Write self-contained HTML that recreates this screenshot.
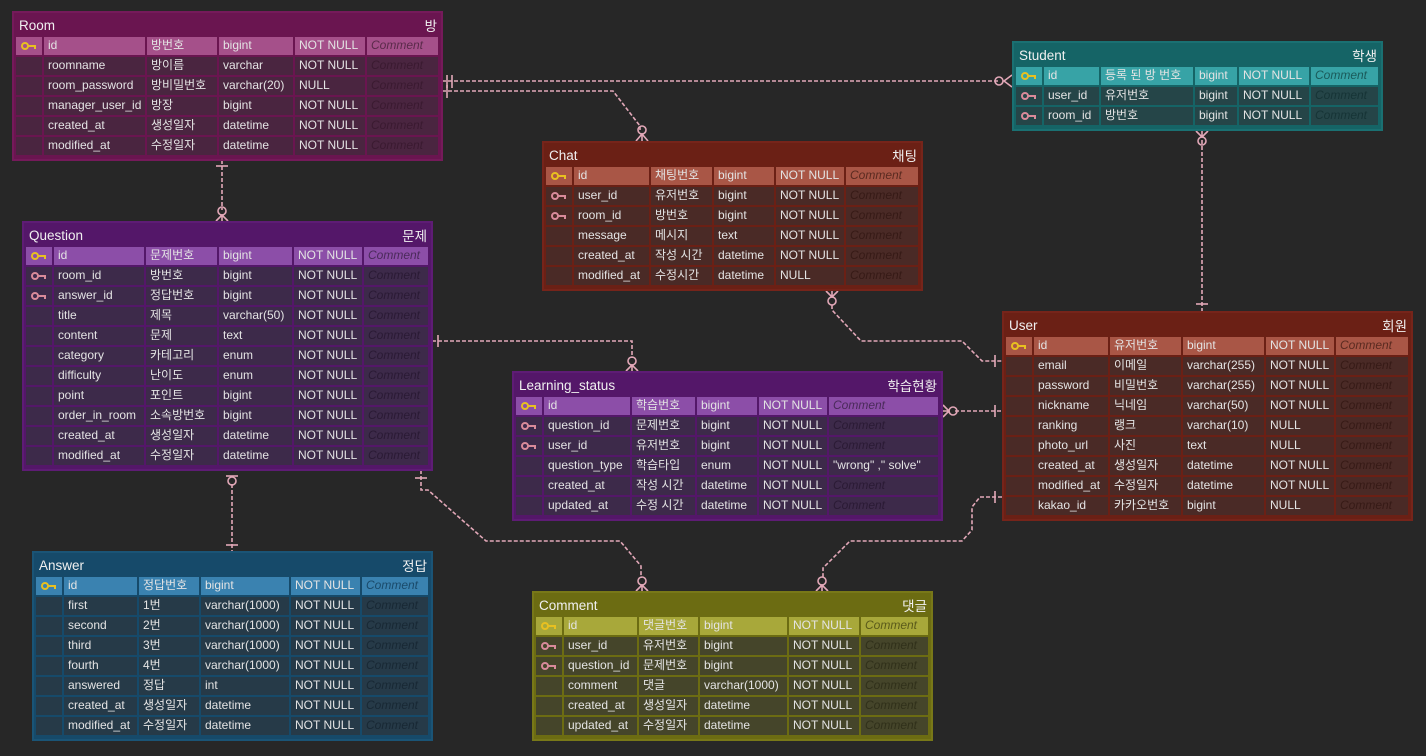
<!DOCTYPE html>
<html><head><meta charset="utf-8"><style>
*{box-sizing:border-box;margin:0;padding:0}
body{width:1426px;height:756px;background:#272727;position:relative;overflow:hidden;font-family:"Liberation Sans","Noto Sans CJK KR",sans-serif;font-size:12px;color:#e4e4e4}
.t{position:absolute;border:2px solid;padding:0 2px}
.h{height:24px;display:flex;justify-content:space-between;align-items:center;font-size:13.5px;padding:0 2px 0 3px;color:#f0f0f0}
.r{display:flex;height:18px;margin-bottom:2px}
.r span{display:block;height:18px;line-height:17px;margin-right:2px;padding-left:4px;white-space:nowrap;overflow:hidden}
.r span:last-child{margin-right:0;font-style:italic}
.k{position:relative}
.k i{position:absolute;left:5px;top:5px;width:8px;height:8px;border:2px solid #d88a9a;border-radius:50%}
.k b{position:absolute;left:12px;top:8px;width:8px;height:2px;background:#d88a9a}
.k b::after{content:"";position:absolute;right:0;top:0;width:2px;height:4px;background:inherit}
.p .k i{border-color:#e8c020}.p .k b{background:#e8c020}
</style></head><body>

<svg width="1426" height="756" style="position:absolute;left:0;top:0" fill="none" stroke="#e2a8b8" stroke-width="1.6">
<g stroke-dasharray="4 2">
<path d="M442 81H1000"/>
<path d="M442 91H613L640 126V130"/>
<path d="M222 160V210"/>
<path d="M1202 140V311"/>
<path d="M832 305V310L861 341H962L982 361H1002"/>
<path d="M432 341H632V358"/>
<path d="M955 411H1002"/>
<path d="M232 484V551"/>
<path d="M421 470V490H428L486 541H620L641 566V578"/>
<path d="M1002 497H980L972 507V530L962 541H850L823 568V578"/>
</g>
<g>
<path d="M447 75V88M452 75V88"/><path d="M447 85V98"/>
<path d="M1012 75L1004 81L1012 87"/><circle cx="999" cy="81" r="4"/>
<circle cx="642" cy="130" r="4"/><path d="M636 141L642 134L648 141M642 134V141"/>
<path d="M216 166H228"/>
<circle cx="222" cy="211" r="4"/><path d="M216 221L222 215L228 221M222 215V221"/>
<path d="M1196 131L1202 137L1208 131M1202 131V137"/><circle cx="1202" cy="141" r="4"/>
<path d="M1196 304H1208"/>
<path d="M826 291L832 297L838 291M832 291V297"/><circle cx="832" cy="301" r="4"/>
<path d="M995 355V367"/>
<path d="M438 335V347"/>
<circle cx="632" cy="361" r="4"/><path d="M626 371L632 365L638 371M632 365V371"/>
<path d="M943 405L949 411L943 417M943 411H949"/><circle cx="953" cy="411" r="4"/>
<path d="M995 405V417"/>
<circle cx="232" cy="481" r="4"/><path d="M226 476H238"/>
<path d="M226 545H238"/>
<path d="M415 478H427"/>
<circle cx="642" cy="581" r="4"/><path d="M636 591L642 585L648 591M642 585V591"/>
<path d="M995 491V503"/>
<circle cx="822" cy="581" r="4"/><path d="M816 591L822 585L828 591M822 585V591"/>
</g>
</svg>

<!-- Room -->
<div class="t" style="left:12px;top:11px;width:431px;height:150px;background:#6a1550;border-color:#751a5a">
<div class="h"><span>Room</span><span>방</span></div>
<div class="r p" style="background:#6a1550"><span class="k" style="width:26px;background:#a5508a"><i></i><b></b></span><span style="width:101px;background:#a5508a">id</span><span style="width:70px;background:#a5508a">방번호</span><span style="width:74px;background:#a5508a">bigint</span><span style="width:70px;background:#a5508a">NOT NULL</span><span style="width:71px;background:#a5508a;color:#5a2a4a">Comment</span></div>
<div class="r"><span style="width:26px;background:#4a2540"></span><span style="width:101px;background:#4a2540">roomname</span><span style="width:70px;background:#4a2540">방이름</span><span style="width:74px;background:#4a2540">varchar</span><span style="width:70px;background:#4a2540">NOT NULL</span><span style="width:71px;background:#4a2540;color:#3a1a30">Comment</span></div>
<div class="r"><span style="width:26px;background:#4a2540"></span><span style="width:101px;background:#4a2540">room_password</span><span style="width:70px;background:#4a2540">방비밀번호</span><span style="width:74px;background:#4a2540">varchar(20)</span><span style="width:70px;background:#4a2540">NULL</span><span style="width:71px;background:#4a2540;color:#3a1a30">Comment</span></div>
<div class="r"><span style="width:26px;background:#4a2540"></span><span style="width:101px;background:#4a2540">manager_user_id</span><span style="width:70px;background:#4a2540">방장</span><span style="width:74px;background:#4a2540">bigint</span><span style="width:70px;background:#4a2540">NOT NULL</span><span style="width:71px;background:#4a2540;color:#3a1a30">Comment</span></div>
<div class="r"><span style="width:26px;background:#4a2540"></span><span style="width:101px;background:#4a2540">created_at</span><span style="width:70px;background:#4a2540">생성일자</span><span style="width:74px;background:#4a2540">datetime</span><span style="width:70px;background:#4a2540">NOT NULL</span><span style="width:71px;background:#4a2540;color:#3a1a30">Comment</span></div>
<div class="r"><span style="width:26px;background:#4a2540"></span><span style="width:101px;background:#4a2540">modified_at</span><span style="width:70px;background:#4a2540">수정일자</span><span style="width:74px;background:#4a2540">datetime</span><span style="width:70px;background:#4a2540">NOT NULL</span><span style="width:71px;background:#4a2540;color:#3a1a30">Comment</span></div>
</div>

<!-- Student -->
<div class="t" style="left:1012px;top:41px;width:371px;height:90px;background:#156466;border-color:#1a7072">
<div class="h"><span>Student</span><span>학생</span></div>
<div class="r p"><span class="k" style="width:26px;background:#37a3a6"><i></i><b></b></span><span style="width:55px;background:#37a3a6">id</span><span style="width:92px;background:#37a3a6">등록 된 방 번호</span><span style="width:42px;background:#37a3a6">bigint</span><span style="width:70px;background:#37a3a6">NOT NULL</span><span style="width:67px;background:#37a3a6;color:#1a5a5a">Comment</span></div>
<div class="r"><span class="k" style="width:26px;background:#254548"><i></i><b></b></span><span style="width:55px;background:#254548">user_id</span><span style="width:92px;background:#254548">유저번호</span><span style="width:42px;background:#254548">bigint</span><span style="width:70px;background:#254548">NOT NULL</span><span style="width:67px;background:#254548;color:#163436">Comment</span></div>
<div class="r"><span class="k" style="width:26px;background:#254548"><i></i><b></b></span><span style="width:55px;background:#254548">room_id</span><span style="width:92px;background:#254548">방번호</span><span style="width:42px;background:#254548">bigint</span><span style="width:70px;background:#254548">NOT NULL</span><span style="width:67px;background:#254548;color:#163436">Comment</span></div>
</div>

<!-- Chat -->
<div class="t" style="left:542px;top:141px;width:381px;height:150px;background:#6b2015;border-color:#76241a">
<div class="h"><span>Chat</span><span>채팅</span></div>
<div class="r p"><span class="k" style="width:26px;background:#a95646"><i></i><b></b></span><span style="width:75px;background:#a95646">id</span><span style="width:61px;background:#a95646">채팅번호</span><span style="width:60px;background:#a95646">bigint</span><span style="width:68px;background:#a95646">NOT NULL</span><span style="width:72px;background:#a95646;color:#5a2a20">Comment</span></div>
<div class="r"><span class="k" style="width:26px;background:#4a2a26"><i></i><b></b></span><span style="width:75px;background:#4a2a26">user_id</span><span style="width:61px;background:#4a2a26">유저번호</span><span style="width:60px;background:#4a2a26">bigint</span><span style="width:68px;background:#4a2a26">NOT NULL</span><span style="width:72px;background:#4a2a26;color:#361a16">Comment</span></div>
<div class="r"><span class="k" style="width:26px;background:#4a2a26"><i></i><b></b></span><span style="width:75px;background:#4a2a26">room_id</span><span style="width:61px;background:#4a2a26">방번호</span><span style="width:60px;background:#4a2a26">bigint</span><span style="width:68px;background:#4a2a26">NOT NULL</span><span style="width:72px;background:#4a2a26;color:#361a16">Comment</span></div>
<div class="r"><span style="width:26px;background:#4a2a26"></span><span style="width:75px;background:#4a2a26">message</span><span style="width:61px;background:#4a2a26">메시지</span><span style="width:60px;background:#4a2a26">text</span><span style="width:68px;background:#4a2a26">NOT NULL</span><span style="width:72px;background:#4a2a26;color:#361a16">Comment</span></div>
<div class="r"><span style="width:26px;background:#4a2a26"></span><span style="width:75px;background:#4a2a26">created_at</span><span style="width:61px;background:#4a2a26">작성 시간</span><span style="width:60px;background:#4a2a26">datetime</span><span style="width:68px;background:#4a2a26">NOT NULL</span><span style="width:72px;background:#4a2a26;color:#361a16">Comment</span></div>
<div class="r"><span style="width:26px;background:#4a2a26"></span><span style="width:75px;background:#4a2a26">modified_at</span><span style="width:61px;background:#4a2a26">수정시간</span><span style="width:60px;background:#4a2a26">datetime</span><span style="width:68px;background:#4a2a26">NULL</span><span style="width:72px;background:#4a2a26;color:#361a16">Comment</span></div>
</div>

<!-- Question -->
<div class="t" style="left:22px;top:221px;width:411px;height:250px;background:#541769;border-color:#5e1c75">
<div class="h"><span>Question</span><span>문제</span></div>
<div class="r p"><span class="k" style="width:26px;background:#8c4ea8"><i></i><b></b></span><span style="width:90px;background:#8c4ea8">id</span><span style="width:71px;background:#8c4ea8">문제번호</span><span style="width:73px;background:#8c4ea8">bigint</span><span style="width:68px;background:#8c4ea8">NOT NULL</span><span style="width:64px;background:#8c4ea8;color:#4a2a5a">Comment</span></div>
<div class="r"><span class="k" style="width:26px;background:#3d2a4a"><i></i><b></b></span><span style="width:90px;background:#3d2a4a">room_id</span><span style="width:71px;background:#3d2a4a">방번호</span><span style="width:73px;background:#3d2a4a">bigint</span><span style="width:68px;background:#3d2a4a">NOT NULL</span><span style="width:64px;background:#3d2a4a;color:#2a1a34">Comment</span></div>
<div class="r"><span class="k" style="width:26px;background:#3d2a4a"><i></i><b></b></span><span style="width:90px;background:#3d2a4a">answer_id</span><span style="width:71px;background:#3d2a4a">정답번호</span><span style="width:73px;background:#3d2a4a">bigint</span><span style="width:68px;background:#3d2a4a">NOT NULL</span><span style="width:64px;background:#3d2a4a;color:#2a1a34">Comment</span></div>
<div class="r"><span style="width:26px;background:#3d2a4a"></span><span style="width:90px;background:#3d2a4a">title</span><span style="width:71px;background:#3d2a4a">제목</span><span style="width:73px;background:#3d2a4a">varchar(50)</span><span style="width:68px;background:#3d2a4a">NOT NULL</span><span style="width:64px;background:#3d2a4a;color:#2a1a34">Comment</span></div>
<div class="r"><span style="width:26px;background:#3d2a4a"></span><span style="width:90px;background:#3d2a4a">content</span><span style="width:71px;background:#3d2a4a">문제</span><span style="width:73px;background:#3d2a4a">text</span><span style="width:68px;background:#3d2a4a">NOT NULL</span><span style="width:64px;background:#3d2a4a;color:#2a1a34">Comment</span></div>
<div class="r"><span style="width:26px;background:#3d2a4a"></span><span style="width:90px;background:#3d2a4a">category</span><span style="width:71px;background:#3d2a4a">카테고리</span><span style="width:73px;background:#3d2a4a">enum</span><span style="width:68px;background:#3d2a4a">NOT NULL</span><span style="width:64px;background:#3d2a4a;color:#2a1a34">Comment</span></div>
<div class="r"><span style="width:26px;background:#3d2a4a"></span><span style="width:90px;background:#3d2a4a">difficulty</span><span style="width:71px;background:#3d2a4a">난이도</span><span style="width:73px;background:#3d2a4a">enum</span><span style="width:68px;background:#3d2a4a">NOT NULL</span><span style="width:64px;background:#3d2a4a;color:#2a1a34">Comment</span></div>
<div class="r"><span style="width:26px;background:#3d2a4a"></span><span style="width:90px;background:#3d2a4a">point</span><span style="width:71px;background:#3d2a4a">포인트</span><span style="width:73px;background:#3d2a4a">bigint</span><span style="width:68px;background:#3d2a4a">NOT NULL</span><span style="width:64px;background:#3d2a4a;color:#2a1a34">Comment</span></div>
<div class="r"><span style="width:26px;background:#3d2a4a"></span><span style="width:90px;background:#3d2a4a">order_in_room</span><span style="width:71px;background:#3d2a4a">소속방번호</span><span style="width:73px;background:#3d2a4a">bigint</span><span style="width:68px;background:#3d2a4a">NOT NULL</span><span style="width:64px;background:#3d2a4a;color:#2a1a34">Comment</span></div>
<div class="r"><span style="width:26px;background:#3d2a4a"></span><span style="width:90px;background:#3d2a4a">created_at</span><span style="width:71px;background:#3d2a4a">생성일자</span><span style="width:73px;background:#3d2a4a">datetime</span><span style="width:68px;background:#3d2a4a">NOT NULL</span><span style="width:64px;background:#3d2a4a;color:#2a1a34">Comment</span></div>
<div class="r"><span style="width:26px;background:#3d2a4a"></span><span style="width:90px;background:#3d2a4a">modified_at</span><span style="width:71px;background:#3d2a4a">수정일자</span><span style="width:73px;background:#3d2a4a">datetime</span><span style="width:68px;background:#3d2a4a">NOT NULL</span><span style="width:64px;background:#3d2a4a;color:#2a1a34">Comment</span></div>
</div>

<!-- Learning_status -->
<div class="t" style="left:512px;top:371px;width:431px;height:150px;background:#541769;border-color:#5e1c75">
<div class="h"><span>Learning_status</span><span>학습현황</span></div>
<div class="r p"><span class="k" style="width:26px;background:#8c4ea8"><i></i><b></b></span><span style="width:86px;background:#8c4ea8">id</span><span style="width:63px;background:#8c4ea8">학습번호</span><span style="width:60px;background:#8c4ea8">bigint</span><span style="width:68px;background:#8c4ea8">NOT NULL</span><span style="width:109px;background:#8c4ea8;color:#4a2a5a">Comment</span></div>
<div class="r"><span class="k" style="width:26px;background:#3d2a4a"><i></i><b></b></span><span style="width:86px;background:#3d2a4a">question_id</span><span style="width:63px;background:#3d2a4a">문제번호</span><span style="width:60px;background:#3d2a4a">bigint</span><span style="width:68px;background:#3d2a4a">NOT NULL</span><span style="width:109px;background:#3d2a4a;color:#2a1a34">Comment</span></div>
<div class="r"><span class="k" style="width:26px;background:#3d2a4a"><i></i><b></b></span><span style="width:86px;background:#3d2a4a">user_id</span><span style="width:63px;background:#3d2a4a">유저번호</span><span style="width:60px;background:#3d2a4a">bigint</span><span style="width:68px;background:#3d2a4a">NOT NULL</span><span style="width:109px;background:#3d2a4a;color:#2a1a34">Comment</span></div>
<div class="r"><span style="width:26px;background:#3d2a4a"></span><span style="width:86px;background:#3d2a4a">question_type</span><span style="width:63px;background:#3d2a4a">학습타입</span><span style="width:60px;background:#3d2a4a">enum</span><span style="width:68px;background:#3d2a4a">NOT NULL</span><span style="width:109px;background:#3d2a4a;font-style:normal">"wrong" ," solve"</span></div>
<div class="r"><span style="width:26px;background:#3d2a4a"></span><span style="width:86px;background:#3d2a4a">created_at</span><span style="width:63px;background:#3d2a4a">작성 시간</span><span style="width:60px;background:#3d2a4a">datetime</span><span style="width:68px;background:#3d2a4a">NOT NULL</span><span style="width:109px;background:#3d2a4a;color:#2a1a34">Comment</span></div>
<div class="r"><span style="width:26px;background:#3d2a4a"></span><span style="width:86px;background:#3d2a4a">updated_at</span><span style="width:63px;background:#3d2a4a">수정 시간</span><span style="width:60px;background:#3d2a4a">datetime</span><span style="width:68px;background:#3d2a4a">NOT NULL</span><span style="width:109px;background:#3d2a4a;color:#2a1a34">Comment</span></div>
</div>

<!-- User -->
<div class="t" style="left:1002px;top:311px;width:411px;height:210px;background:#6b2015;border-color:#76241a">
<div class="h"><span>User</span><span>회원</span></div>
<div class="r p"><span class="k" style="width:26px;background:#a95646"><i></i><b></b></span><span style="width:74px;background:#a95646">id</span><span style="width:71px;background:#a95646">유저번호</span><span style="width:81px;background:#a95646">bigint</span><span style="width:68px;background:#a95646">NOT NULL</span><span style="width:72px;background:#a95646;color:#5a2a20">Comment</span></div>
<div class="r"><span style="width:26px;background:#4a2a26"></span><span style="width:74px;background:#4a2a26">email</span><span style="width:71px;background:#4a2a26">이메일</span><span style="width:81px;background:#4a2a26">varchar(255)</span><span style="width:68px;background:#4a2a26">NOT NULL</span><span style="width:72px;background:#4a2a26;color:#361a16">Comment</span></div>
<div class="r"><span style="width:26px;background:#4a2a26"></span><span style="width:74px;background:#4a2a26">password</span><span style="width:71px;background:#4a2a26">비밀번호</span><span style="width:81px;background:#4a2a26">varchar(255)</span><span style="width:68px;background:#4a2a26">NOT NULL</span><span style="width:72px;background:#4a2a26;color:#361a16">Comment</span></div>
<div class="r"><span style="width:26px;background:#4a2a26"></span><span style="width:74px;background:#4a2a26">nickname</span><span style="width:71px;background:#4a2a26">닉네임</span><span style="width:81px;background:#4a2a26">varchar(50)</span><span style="width:68px;background:#4a2a26">NOT NULL</span><span style="width:72px;background:#4a2a26;color:#361a16">Comment</span></div>
<div class="r"><span style="width:26px;background:#4a2a26"></span><span style="width:74px;background:#4a2a26">ranking</span><span style="width:71px;background:#4a2a26">랭크</span><span style="width:81px;background:#4a2a26">varchar(10)</span><span style="width:68px;background:#4a2a26">NULL</span><span style="width:72px;background:#4a2a26;color:#361a16">Comment</span></div>
<div class="r"><span style="width:26px;background:#4a2a26"></span><span style="width:74px;background:#4a2a26">photo_url</span><span style="width:71px;background:#4a2a26">사진</span><span style="width:81px;background:#4a2a26">text</span><span style="width:68px;background:#4a2a26">NULL</span><span style="width:72px;background:#4a2a26;color:#361a16">Comment</span></div>
<div class="r"><span style="width:26px;background:#4a2a26"></span><span style="width:74px;background:#4a2a26">created_at</span><span style="width:71px;background:#4a2a26">생성일자</span><span style="width:81px;background:#4a2a26">datetime</span><span style="width:68px;background:#4a2a26">NOT NULL</span><span style="width:72px;background:#4a2a26;color:#361a16">Comment</span></div>
<div class="r"><span style="width:26px;background:#4a2a26"></span><span style="width:74px;background:#4a2a26">modified_at</span><span style="width:71px;background:#4a2a26">수정일자</span><span style="width:81px;background:#4a2a26">datetime</span><span style="width:68px;background:#4a2a26">NOT NULL</span><span style="width:72px;background:#4a2a26;color:#361a16">Comment</span></div>
<div class="r"><span style="width:26px;background:#4a2a26"></span><span style="width:74px;background:#4a2a26">kakao_id</span><span style="width:71px;background:#4a2a26">카카오번호</span><span style="width:81px;background:#4a2a26">bigint</span><span style="width:68px;background:#4a2a26">NULL</span><span style="width:72px;background:#4a2a26;color:#361a16">Comment</span></div>
</div>

<!-- Answer -->
<div class="t" style="left:32px;top:551px;width:401px;height:190px;background:#164a6a;border-color:#1a5476">
<div class="h"><span>Answer</span><span>정답</span></div>
<div class="r p"><span class="k" style="width:26px;background:#3a82b0"><i></i><b></b></span><span style="width:73px;background:#3a82b0">id</span><span style="width:60px;background:#3a82b0">정답번호</span><span style="width:88px;background:#3a82b0">bigint</span><span style="width:69px;background:#3a82b0">NOT NULL</span><span style="width:66px;background:#3a82b0;color:#1a4a6a">Comment</span></div>
<div class="r"><span style="width:26px;background:#263a48"></span><span style="width:73px;background:#263a48">first</span><span style="width:60px;background:#263a48">1번</span><span style="width:88px;background:#263a48">varchar(1000)</span><span style="width:69px;background:#263a48">NOT NULL</span><span style="width:66px;background:#263a48;color:#182834">Comment</span></div>
<div class="r"><span style="width:26px;background:#263a48"></span><span style="width:73px;background:#263a48">second</span><span style="width:60px;background:#263a48">2번</span><span style="width:88px;background:#263a48">varchar(1000)</span><span style="width:69px;background:#263a48">NOT NULL</span><span style="width:66px;background:#263a48;color:#182834">Comment</span></div>
<div class="r"><span style="width:26px;background:#263a48"></span><span style="width:73px;background:#263a48">third</span><span style="width:60px;background:#263a48">3번</span><span style="width:88px;background:#263a48">varchar(1000)</span><span style="width:69px;background:#263a48">NOT NULL</span><span style="width:66px;background:#263a48;color:#182834">Comment</span></div>
<div class="r"><span style="width:26px;background:#263a48"></span><span style="width:73px;background:#263a48">fourth</span><span style="width:60px;background:#263a48">4번</span><span style="width:88px;background:#263a48">varchar(1000)</span><span style="width:69px;background:#263a48">NOT NULL</span><span style="width:66px;background:#263a48;color:#182834">Comment</span></div>
<div class="r"><span style="width:26px;background:#263a48"></span><span style="width:73px;background:#263a48">answered</span><span style="width:60px;background:#263a48">정답</span><span style="width:88px;background:#263a48">int</span><span style="width:69px;background:#263a48">NOT NULL</span><span style="width:66px;background:#263a48;color:#182834">Comment</span></div>
<div class="r"><span style="width:26px;background:#263a48"></span><span style="width:73px;background:#263a48">created_at</span><span style="width:60px;background:#263a48">생성일자</span><span style="width:88px;background:#263a48">datetime</span><span style="width:69px;background:#263a48">NOT NULL</span><span style="width:66px;background:#263a48;color:#182834">Comment</span></div>
<div class="r"><span style="width:26px;background:#263a48"></span><span style="width:73px;background:#263a48">modified_at</span><span style="width:60px;background:#263a48">수정일자</span><span style="width:88px;background:#263a48">datetime</span><span style="width:69px;background:#263a48">NOT NULL</span><span style="width:66px;background:#263a48;color:#182834">Comment</span></div>
</div>

<!-- Comment -->
<div class="t" style="left:532px;top:591px;width:401px;height:150px;background:#6c6c12;border-color:#787818">
<div class="h"><span>Comment</span><span>댓글</span></div>
<div class="r p"><span class="k" style="width:26px;background:#a8a83a"><i></i><b></b></span><span style="width:73px;background:#a8a83a">id</span><span style="width:59px;background:#a8a83a">댓글번호</span><span style="width:87px;background:#a8a83a">bigint</span><span style="width:70px;background:#a8a83a">NOT NULL</span><span style="width:67px;background:#a8a83a;color:#5a5a1a">Comment</span></div>
<div class="r"><span class="k" style="width:26px;background:#45452a"><i></i><b></b></span><span style="width:73px;background:#45452a">user_id</span><span style="width:59px;background:#45452a">유저번호</span><span style="width:87px;background:#45452a">bigint</span><span style="width:70px;background:#45452a">NOT NULL</span><span style="width:67px;background:#45452a;color:#30301a">Comment</span></div>
<div class="r"><span class="k" style="width:26px;background:#45452a"><i></i><b></b></span><span style="width:73px;background:#45452a">question_id</span><span style="width:59px;background:#45452a">문제번호</span><span style="width:87px;background:#45452a">bigint</span><span style="width:70px;background:#45452a">NOT NULL</span><span style="width:67px;background:#45452a;color:#30301a">Comment</span></div>
<div class="r"><span style="width:26px;background:#45452a"></span><span style="width:73px;background:#45452a">comment</span><span style="width:59px;background:#45452a">댓글</span><span style="width:87px;background:#45452a">varchar(1000)</span><span style="width:70px;background:#45452a">NOT NULL</span><span style="width:67px;background:#45452a;color:#30301a">Comment</span></div>
<div class="r"><span style="width:26px;background:#45452a"></span><span style="width:73px;background:#45452a">created_at</span><span style="width:59px;background:#45452a">생성일자</span><span style="width:87px;background:#45452a">datetime</span><span style="width:70px;background:#45452a">NOT NULL</span><span style="width:67px;background:#45452a;color:#30301a">Comment</span></div>
<div class="r"><span style="width:26px;background:#45452a"></span><span style="width:73px;background:#45452a">updated_at</span><span style="width:59px;background:#45452a">수정일자</span><span style="width:87px;background:#45452a">datetime</span><span style="width:70px;background:#45452a">NOT NULL</span><span style="width:67px;background:#45452a;color:#30301a">Comment</span></div>
</div>

</body></html>
